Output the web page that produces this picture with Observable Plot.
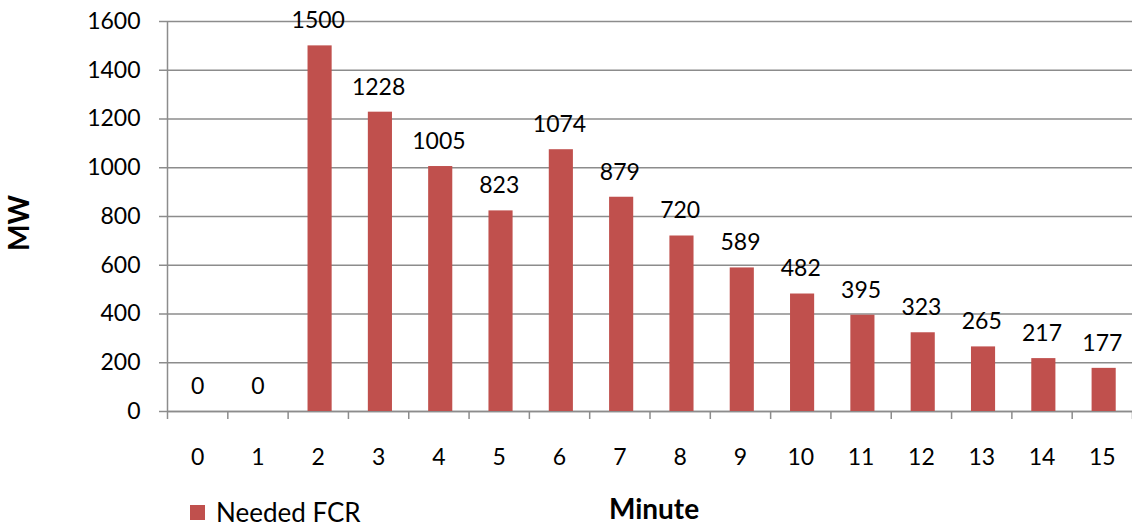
<!DOCTYPE html>
<html>
<head>
<meta charset="utf-8">
<script src="https://cdn.jsdelivr.net/npm/d3@7"></script>
<script src="https://cdn.jsdelivr.net/npm/@observablehq/plot@0.6"></script>
<style>
  body { margin: 0; background: #fff; font-family: Lato, "Open Sans", sans-serif; }
  #wrap { position: relative; width: 1132px; height: 529px; overflow: hidden; }
  #legend { position: absolute; left: 190px; top: 498px; display: flex; align-items: center; font-size: 26px; line-height: 28px; color: #000; }
  #legend .sw { width: 15px; height: 15px; background: #C0504D; margin-right: 11px; }
</style>
</head>
<body>
<div id="wrap"><div id="legend"><div class="sw"></div><span>Needed FCR</span></div></div>
<script>
const minutes = [0, 1, 2, 3, 4, 5, 6, 7, 8, 9, 10, 11, 12, 13, 14, 15];
const neededFCR = [0, 0, 1500, 1228, 1005, 823, 1074, 879, 720, 589, 482, 395, 323, 265, 217, 177];
const yTicks = [0, 200, 400, 600, 800, 1000, 1200, 1400, 1600];
const seriesName = "Needed FCR";

const data = minutes.map((m, i) => ({minute: m, value: neededFCR[i]}));
const boundaries = minutes.map(m => m - 0.5).concat([minutes[minutes.length - 1] + 0.5]);
const halfBar = 0.2;
const grey = "#8c8c8c";

const chart = Plot.plot({
  width: 1132,
  height: 529,
  marginLeft: 167,
  marginRight: 0,
  marginTop: 21,
  marginBottom: 118,
  style: {fontFamily: "Lato, 'Open Sans', sans-serif", fontSize: "23px", color: "#000", background: "transparent"},
  x: {domain: [minutes[0] - 0.5, minutes[minutes.length - 1] + 0.5]},
  y: {domain: [0, 1600]},
  marks: [
    Plot.gridY(yTicks, {stroke: grey, strokeOpacity: 1, strokeWidth: 1.5}),
    Plot.axisY(yTicks, {tickSize: 8, tickPadding: 19, stroke: grey, strokeWidth: 1.5, fontSize: 23, label: null, tickFormat: d => String(d)}),
    Plot.axisX(boundaries, {tickSize: 8, stroke: grey, strokeWidth: 1.5, tickFormat: () => "", label: null}),
    Plot.axisX(minutes, {tickSize: 0, tickPadding: 37, fontSize: 23, label: null, tickFormat: d => String(d)}),
    Plot.ruleX([minutes[0] - 0.5], {stroke: grey, strokeWidth: 1.5}),
    Plot.ruleY([0], {stroke: grey, strokeWidth: 1.5}),
    Plot.rectY(data, {x1: d => d.minute - halfBar + 0.03, x2: d => d.minute + halfBar + 0.03, y: "value", fill: "#C0504D"}),
    Plot.text(data, {x: "minute", y: "value", text: d => String(d.value), dy: -25, fontSize: 23, fill: "#000"})
  ]
});

const svg = d3.select(chart);
svg.append("text")
  .attr("transform", "translate(22,223) rotate(-90)")
  .attr("text-anchor", "middle").attr("dominant-baseline", "middle")
  .attr("font-weight", "bold").attr("font-size", 28).attr("fill", "#000")
  .text("MW");
svg.append("text")
  .attr("x", 654).attr("y", 519)
  .attr("text-anchor", "middle")
  .attr("font-weight", "bold").attr("font-size", 28).attr("fill", "#000")
  .text("Minute");

const wrap = document.getElementById("wrap");
wrap.insertBefore(chart, wrap.firstChild);
document.querySelector("#legend span").textContent = seriesName;
</script>
</body>
</html>
